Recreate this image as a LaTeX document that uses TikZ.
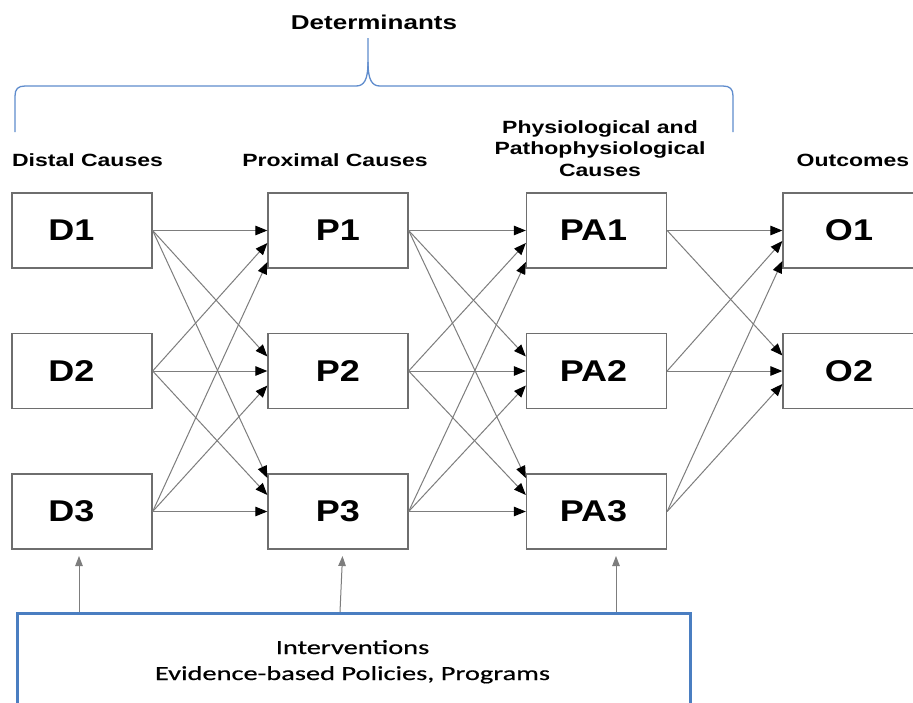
\documentclass[tikz,border=0pt]{standalone}
\usepackage{fontspec}
\usetikzlibrary{arrows.meta,calc}
\newfontfamily\hdrfont[FakeStretch=1.3]{Liberation Sans}
\newfontfamily\boxfont[FakeStretch=1.2]{Liberation Sans}
\newfontfamily\calfont[FakeStretch=1.42,FakeBold=0.6]{Carlito}
\definecolor{linegray}{RGB}{125,125,125}
\definecolor{boxgray}{RGB}{110,110,110}
\definecolor{bracecol}{RGB}{95,140,205}
\definecolor{intblue}{RGB}{74,126,193}
\begin{document}
\begin{tikzpicture}[x=1pt,y=-1pt,
  cbox/.style={draw=boxgray, line width=1.3pt, minimum width=140pt, minimum height=75pt, inner sep=0pt,
    font=\boxfont\bfseries\fontsize{30}{31}\selectfont},
  hdr/.style={inner sep=0pt, anchor=base, align=center, font=\hdrfont\bfseries\fontsize{17.7}{21.5}\selectfont},
  conn/.style={draw=linegray, line width=1pt, -{Triangle[length=12pt,width=9.5pt,black]}},
  upar/.style={draw=linegray, line width=1pt, -{Triangle[length=10pt,width=7.5pt,linegray]}},
  interv/.style={draw=intblue, line width=3pt, minimum width=673pt, minimum height=126pt, inner sep=0pt}
]
\useasboundingbox (0,0) rectangle (913,702);
\fill[white] (0,0) rectangle (913,702);

% brace
\draw[bracecol, line width=1.3pt] (15,132) -- (15,96) .. controls (15,89) and (18,86) .. (25,86)
  -- (356,86) .. controls (364,86) and (368,80) .. (368,62) -- (368,38);
\draw[bracecol, line width=1.3pt] (368,62) .. controls (368,80) and (372,86) .. (380,86)
  -- (723,86) .. controls (730,86) and (733,89) .. (733,96) -- (733,132);
\node[hdr, font=\hdrfont\bfseries\fontsize{20}{22}\selectfont] (det) at (374,29) {Determinants};

% headers
\node[hdr] (hD) at (87.5,166.5) {Distal Causes};
\node[hdr] (hP) at (335,166.5) {Proximal Causes};
\node[hdr] (hA) at (600,176) {Physiological and\\Pathophysiological\\Causes};
\node[hdr] (hO) at (853,166.5) {Outcomes};

% boxes
\node[cbox] (D1) at (82,230.5) {\hbox{D1\kern21pt}};
\node[cbox] (D2) at (82,371) {\hbox{D2\kern21pt}};
\node[cbox] (D3) at (82,511.5) {\hbox{D3\kern21pt}};
\node[cbox] (P1) at (338,230.5) {P1};
\node[cbox] (P2) at (338,371) {P2};
\node[cbox] (P3) at (338,511.5) {P3};
\node[cbox] (PA1) at (596.5,230.5) {\hbox{PA1\kern6pt}};
\node[cbox] (PA2) at (596.5,371) {\hbox{PA2\kern6pt}};
\node[cbox] (PA3) at (596.5,511.5) {\hbox{PA3\kern6pt}};
\node[cbox, minimum width=132pt] (O1) at (849,230.5) {O1};
\node[cbox, minimum width=132pt] (O2) at (849,371) {O2};

% connectors
\foreach \s/\t/\o in {1/1/0, 2/1/12.5, 3/1/31.5, 1/2/-14.5, 2/2/0, 3/2/14.5, 1/3/-33.5, 2/3/-16.5, 3/3/0} {
  \draw[conn] (D\s.east) -- ($(P\t.west)+(0,\o)$);
  \draw[conn] (P\s.east) -- ($(PA\t.west)+(0,\o)$);
}
\foreach \s/\t/\o in {1/1/0, 2/1/10.5, 3/1/30.5, 1/2/-15.5, 2/2/0, 3/2/13} {
  \draw[conn] (PA\s.east) -- ($(O\t.west)+(0,\o)$);
}

% interventions
\node[interv] (I) at (353.5,676) {};
\node[inner sep=0pt, align=center, anchor=base, font=\calfont\fontsize{20}{26}\selectfont] (itext) at (352.5,680) {Interventions\\Evidence-based Policies, Programs};

\coordinate (b1) at (79,612);   \coordinate (t1) at (79,556);
\coordinate (b2) at (340,612);  \coordinate (t2) at (342.5,556);
\coordinate (b3) at (616,612);  \coordinate (t3) at (616,556);
\draw[upar] (b1) -- (t1);
\draw[upar] (b2) -- (t2);
\draw[upar] (b3) -- (t3);
\end{tikzpicture}
\end{document}
